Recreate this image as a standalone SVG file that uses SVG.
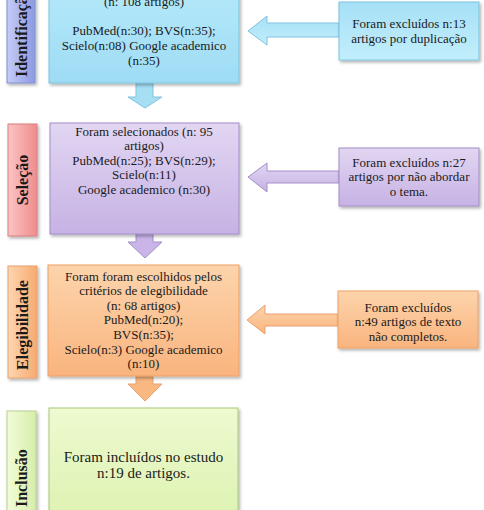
<svg xmlns="http://www.w3.org/2000/svg" width="484" height="510" viewBox="0 0 484 510">
<style>
.t{font-family:"Liberation Serif","Times New Roman",serif;font-size:13px;fill:#1a1a1a;text-anchor:middle}
.big{font-size:15px}
.lab{font-family:"Liberation Serif","Times New Roman",serif;font-size:16px;font-weight:bold;fill:#1a1a1a}
</style>
<defs>
<filter id="sh" x="-10%" y="-10%" width="130%" height="130%">
<feDropShadow dx="1.5" dy="2" stdDeviation="1.5" flood-color="#000" flood-opacity="0.3"/>
</filter>
<linearGradient id="gB" x1="0" y1="0" x2="0" y2="1"><stop offset="0" stop-color="#b4e8fa"/><stop offset="1" stop-color="#9edcf4"/></linearGradient>
<linearGradient id="gBr" x1="0" y1="0" x2="0" y2="1"><stop offset="0" stop-color="#a6e0f6"/><stop offset="1" stop-color="#c2eefc"/></linearGradient>
<linearGradient id="gP" x1="0" y1="0" x2="0" y2="1"><stop offset="0" stop-color="#e2d6f2"/><stop offset="1" stop-color="#c6b2e4"/></linearGradient>
<linearGradient id="gO" x1="0" y1="0" x2="0" y2="1"><stop offset="0" stop-color="#fdd4ac"/><stop offset="1" stop-color="#f9b47e"/></linearGradient>
<linearGradient id="gG" x1="0" y1="0" x2="0" y2="1"><stop offset="0" stop-color="#eefad0"/><stop offset="1" stop-color="#dcf2b0"/></linearGradient>
<linearGradient id="sB" x1="0" y1="0" x2="1" y2="0"><stop offset="0" stop-color="#c6ccf8"/><stop offset="1" stop-color="#8c9ae2"/></linearGradient>
<linearGradient id="sR" x1="0" y1="0" x2="1" y2="0"><stop offset="0" stop-color="#fbc4c4"/><stop offset="1" stop-color="#f08c8c"/></linearGradient>
<linearGradient id="sO" x1="0" y1="0" x2="1" y2="0"><stop offset="0" stop-color="#fdd6b0"/><stop offset="1" stop-color="#f8aa70"/></linearGradient>
<linearGradient id="sG" x1="0" y1="0" x2="1" y2="0"><stop offset="0" stop-color="#f2fcd8"/><stop offset="1" stop-color="#d6eeaa"/></linearGradient>
</defs>

<g id="label-identificacao">
<rect x="7" y="-10" width="28" height="93" fill="url(#sB)" stroke="#8090d0" stroke-width="1" filter="url(#sh)"/>
<text class="lab" transform="translate(27,77) rotate(-90)">Identificação</text>
</g>
<g id="label-selecao">
<rect x="8" y="124" width="29" height="112" fill="url(#sR)" stroke="#d88080" stroke-width="1" filter="url(#sh)"/>
<text class="lab" transform="translate(28,180) rotate(-90)" text-anchor="middle">Seleção</text>
</g>
<g id="label-elegibilidade">
<rect x="8" y="266" width="29" height="112" fill="url(#sO)" stroke="#e8a070" stroke-width="1" filter="url(#sh)"/>
<text class="lab" transform="translate(28,325) rotate(-90)" text-anchor="middle">Elegibilidade</text>
</g>
<g id="label-inclusao">
<rect x="7" y="411" width="29" height="110" fill="url(#sG)" stroke="#b8d090" stroke-width="1" filter="url(#sh)"/>
<text class="lab" transform="translate(27,507) rotate(-90)">Inclusão</text>
</g>

<g id="connectors">
<path d="M136,83 V97 H128 L145,108 L162,97 H153 V83 Z" fill="#a6def4" stroke="#80c4e0" stroke-width="1"/>
<path d="M339,23 H267 V16 L248,31 L267,45 V37 H339 Z" fill="url(#gBr)" stroke="#80c4e0" stroke-width="1"/>
<path d="M136,234 V242 H128 L145,258 L162,242 H153 V234 Z" fill="#cab4e8" stroke="#a090c8" stroke-width="1"/>
<path d="M339,171 H267 V163 L248,177 L267,192 V183 H339 Z" fill="url(#gP)" stroke="#a090c8" stroke-width="1"/>
<path d="M136,376 V384 H128 L145,401 L162,384 H153 V376 Z" fill="#f9b882" stroke="#eba070" stroke-width="1"/>
<path d="M338,314 H265 V305 L247,320 L265,334 V326 H338 Z" fill="url(#gO)" stroke="#eba070" stroke-width="1"/>
</g>

<g id="box-identificacao">
<rect x="49" y="-10" width="190" height="93" fill="url(#gB)" stroke="#7cc4de" stroke-width="1" filter="url(#sh)"/>
<text class="t" x="144" y="6">(n: 108 artigos)</text>
<text class="t" x="144" y="35">PubMed(n:30); BVS(n:35);</text>
<text class="t" x="144" y="50">Scielo(n:08) Google academico</text>
<text class="t" x="144" y="65">(n:35)</text>
</g>
<g id="box-excl1">
<rect x="339" y="2" width="140" height="58" fill="url(#gBr)" stroke="#7cc4de" stroke-width="1" filter="url(#sh)"/>
<text class="t" x="409" y="27.5">Foram excluídos n:13</text>
<text class="t" x="409" y="42.5">artigos por duplicação</text>
</g>

<g id="box-selecao">
<rect x="50" y="123" width="189" height="111" fill="url(#gP)" stroke="#a28ec6" stroke-width="1" filter="url(#sh)"/>
<text class="t" x="144" y="135.5">Foram selecionados (n: 95</text>
<text class="t" x="144" y="150">artigos)</text>
<text class="t" x="144" y="164.7">PubMed(n:25); BVS(n:29);</text>
<text class="t" x="144" y="179.3">Scielo(n:11)</text>
<text class="t" x="144" y="194">Google academico (n:30)</text>
</g>
<g id="box-excl2">
<rect x="339" y="148" width="140" height="58" fill="url(#gP)" stroke="#a28ec6" stroke-width="1" filter="url(#sh)"/>
<text class="t" x="409" y="166.5">Foram excluídos n:27</text>
<text class="t" x="409" y="181">artigos por não abordar</text>
<text class="t" x="409" y="195.5">o tema.</text>
</g>

<g id="box-elegibilidade">
<rect x="48" y="265" width="191" height="111" fill="url(#gO)" stroke="#eea064" stroke-width="1" filter="url(#sh)"/>
<text class="t" x="143.5" y="280.5">Foram foram escolhidos pelos</text>
<text class="t" x="143.5" y="295">critérios de elegibilidade</text>
<text class="t" x="143.5" y="309.7">(n: 68 artigos)</text>
<text class="t" x="143.5" y="324.3">PubMed(n:20);</text>
<text class="t" x="143.5" y="339">BVS(n:35);</text>
<text class="t" x="143.5" y="353.6">Scielo(n:3) Google academico</text>
<text class="t" x="143.5" y="368.3">(n:10)</text>
</g>
<g id="box-excl3">
<rect x="338" y="291" width="140" height="57" fill="url(#gO)" stroke="#eea064" stroke-width="1" filter="url(#sh)"/>
<text class="t" x="408" y="311.5">Foram excluídos</text>
<text class="t" x="408" y="326">n:49 artigos de texto</text>
<text class="t" x="408" y="340.5">não completos.</text>
</g>

<g id="box-inclusao">
<rect x="49" y="408" width="189" height="115" fill="url(#gG)" stroke="#a8c87c" stroke-width="1" filter="url(#sh)"/>
<text class="t big" x="143.5" y="462">Foram incluídos no estudo</text>
<text class="t big" x="143.5" y="478">n:19 de artigos.</text>
</g>
</svg>
